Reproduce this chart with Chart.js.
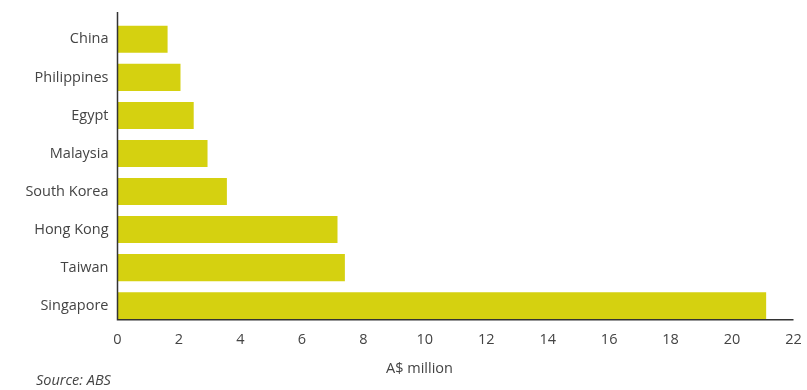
<!DOCTYPE html>
<html>
<head>
<meta charset="utf-8">
<script src="https://cdn.jsdelivr.net/npm/chart.js@4/dist/chart.umd.min.js"></script>
<style>
  html, body { margin: 0; padding: 0; background: #ffffff; }
  #wrap { position: relative; width: 807px; height: 390px; }
</style>
</head>
<body>
<div id="wrap"><canvas id="chart" width="807" height="390"></canvas></div>
<script>
// Export values by destination (A$ million)
const countries = ['China', 'Philippines', 'Egypt', 'Malaysia', 'South Korea', 'Hong Kong', 'Taiwan', 'Singapore'];
const values = [1.63, 2.05, 2.48, 2.93, 3.56, 7.16, 7.40, 21.11];
const xTicks = [0, 2, 4, 6, 8, 10, 12, 14, 16, 18, 20, 22];
const axisTitle = 'A$ million';
const sourceNote = 'Source: ABS';

const textColor = '#444444';
const axisColor = '#333333';
const fontFamily = '"Open Sans", "Noto Sans", sans-serif';

function clearPadding(scale) {
  scale.paddingTop = 0;
  scale.paddingBottom = 0;
  scale.paddingLeft = 0;
  scale.paddingRight = 0;
}

// Axis lines (the value axis sits just under the last bar), axis title and source note
const extras = {
  id: 'extras',
  afterDatasetsDraw(chart) {
    const ctx = chart.ctx;
    const area = chart.chartArea;
    const last = chart.getDatasetMeta(0).data[countries.length - 1];
    const axisY = Math.round(last.y + last.height / 2) + 0.75;
    ctx.save();
    ctx.strokeStyle = axisColor;
    ctx.lineWidth = 1.5;
    ctx.beginPath();
    ctx.moveTo(area.left, 12);
    ctx.lineTo(area.left, axisY);
    ctx.lineTo(area.right, axisY);
    ctx.stroke();
    ctx.restore();
  },
  afterDraw(chart) {
    const ctx = chart.ctx;
    ctx.save();
    ctx.fillStyle = textColor;
    ctx.textBaseline = 'middle';
    ctx.textAlign = 'center';
    ctx.font = '14.5px ' + fontFamily;
    ctx.fillText(axisTitle, 419.5, 368.5);

    ctx.textAlign = 'left';
    ctx.font = 'italic 14.5px ' + fontFamily;
    ctx.fillText(sourceNote, 36, 381);
    ctx.restore();
  }
};

new Chart(document.getElementById('chart'), {
  type: 'bar',
  data: {
    labels: countries,
    datasets: [{
      data: values,
      backgroundColor: 'rgb(213, 209, 16)',
      borderWidth: 0,
      barPercentage: 0.71,
      categoryPercentage: 1.0
    }]
  },
  options: {
    indexAxis: 'y',
    responsive: false,
    animation: false,
    devicePixelRatio: 1,
    layout: { padding: { left: 0, right: 13.5, top: 20.3, bottom: 0 } },
    plugins: {
      legend: { display: false },
      tooltip: { enabled: false }
    },
    scales: {
      x: {
        min: 0,
        max: 22,
        afterBuildTicks(scale) {
          scale.ticks = xTicks.map(v => ({ value: v }));
        },
        afterFit(scale) { scale.height = 65.3; clearPadding(scale); },
        grid: { display: false, drawTicks: false },
        border: { display: false },
        ticks: {
          color: textColor,
          padding: 6.8,
          font: { family: fontFamily, size: 14.5 },
          maxRotation: 0,
          autoSkip: false
        }
      },
      y: {
        afterFit(scale) { scale.width = 117.5; clearPadding(scale); },
        grid: { display: false, drawTicks: false },
        border: { display: false },
        ticks: {
          color: textColor,
          padding: 9,
          font: { family: fontFamily, size: 14.5 },
          autoSkip: false
        }
      }
    }
  },
  plugins: [extras]
});
</script>
</body>
</html>
